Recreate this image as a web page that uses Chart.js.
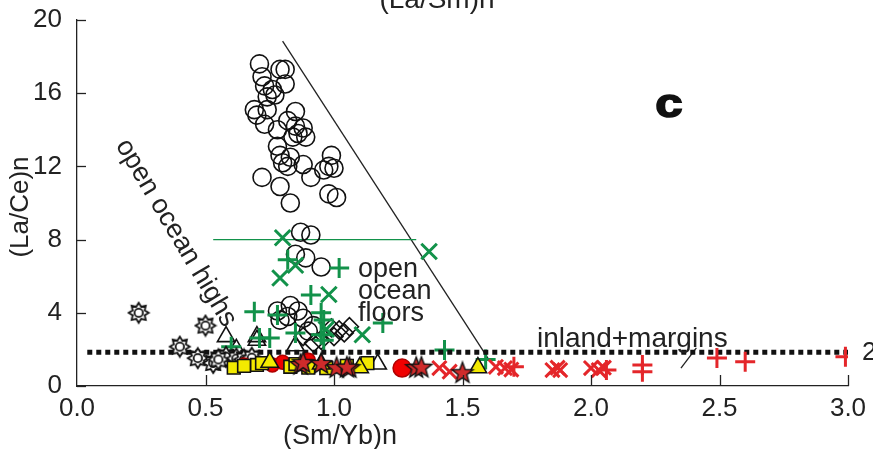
<!DOCTYPE html>
<html>
<head>
<meta charset="utf-8">
<script src="https://cdn.jsdelivr.net/npm/chart.js@4.4.1/dist/chart.umd.min.js"></script>
<style>
  html, body { margin: 0; padding: 0; background: #fff; }
  #wrap { width: 873px; height: 449px; }
</style>
</head>
<body>
<div id="wrap"><canvas id="chart"></canvas></div>
<script>
// axis ticks
const xTicks = [0.0, 0.5, 1.0, 1.5, 2.0, 2.5, 3.0];
const yTicks = [0, 4, 8, 12, 16, 20];

// series, [ (Sm/Yb)n , (La/Ce)n ]
const openCircles = [
  [0.71,17.6],[0.72,16.9],[0.79,17.3],[0.81,17.3],[0.73,16.4],[0.76,16.2],[0.81,16.5],
  [0.74,15.8],[0.77,15.9],[0.69,15.1],[0.70,14.8],[0.74,15.1],[0.73,14.3],[0.78,14.0],
  [0.85,15.0],[0.82,14.5],[0.85,14.2],[0.88,14.1],[0.89,13.6],[0.84,13.6],[0.86,13.8],
  [0.78,13.1],[0.79,12.6],[0.80,12.2],[0.82,12.0],[0.83,12.5],[0.88,12.1],[0.99,12.6],
  [0.98,12.0],[1.00,11.9],[0.96,11.8],[0.72,11.4],[0.91,11.4],[0.79,10.9],[0.98,10.5],
  [1.01,10.3],[0.83,10.0],[0.87,8.4],[0.91,8.25],[0.85,7.2],[0.89,7.0],[0.95,6.5],
  [0.78,4.1],[0.83,4.4],[0.86,4.1],[0.82,3.8],[0.88,3.7],[0.79,3.6],[0.92,3.3],[0.90,3.0]
];
const greenCrosses = [[0.80,8.1],[0.85,6.6],[0.79,5.9],[0.98,5.0],[1.11,2.8],[1.37,7.35],[0.97,3.1]];
const greenPluses = [
  [1.02,6.45],[0.82,6.9],[0.91,4.97],[0.69,4.06],[0.78,3.88],[0.95,4.0],[0.96,3.6],
  [1.19,3.44],[0.71,2.62],[0.75,2.62],[0.85,2.9],[0.95,2.8],[0.60,2.15],[1.43,1.97],
  [1.59,1.45],[0.96,2.5]
];
const openDiamonds = [[1.06,3.24],[1.04,2.9],[0.99,3.17],[0.95,2.5],[0.92,2.34],[1.02,3.06],[0.88,2.7],[1.00,2.7]];
const openTriangles = [[0.58,2.7],[0.70,2.7],[0.70,2.5],[1.17,1.2],[0.62,2.0],[0.85,2.2]];
const sunStars = [[0.24,4.0],[0.50,3.3],[0.40,2.15],[0.47,1.52],[0.53,1.26],[0.58,1.6],[0.62,1.5],[0.65,1.45],[0.68,1.55],[0.55,1.45]];
const yellowSquares = [[0.61,1.0],[0.70,1.15],[0.83,1.05],[0.97,0.98],[1.13,1.25],[0.72,1.25],[0.85,1.2],[0.90,1.0],[1.05,1.1],[0.65,1.1]];
const yellowTriangles = [[1.56,1.0],[0.75,1.3],[0.95,1.2],[1.10,1.0]];
const redCircles = [[1.265,0.98],[0.65,1.15],[0.76,1.15],[0.80,1.3],[0.90,1.4]];
const redStars = [[0.87,1.15],[1.01,0.98],[1.06,0.98],[1.32,0.98],[1.50,0.7],[0.88,1.25],[1.05,1.0],[1.34,1.0],[0.95,1.2]];
const redCrosses = [[1.41,0.98],[1.45,0.78],[1.63,1.05],[1.665,0.98],[1.85,0.87],[1.88,0.87],[2.00,0.98],[2.03,0.87],[1.69,0.9],[1.87,1.0],[2.05,1.0]];
const redPluses = [[1.70,1.05],[2.20,1.15],[2.20,0.78],[2.49,1.53],[2.60,1.33],[2.99,1.6],[2.06,0.87]];

// reference lines
const dottedLine = [[0.04,1.85],[3.0,1.85]];
const diagonalLine = [[0.80,18.85],[1.60,1.5]];
const greenLine = [[0.53,8.0],[1.32,8.0]];
const slashLine = [[2.35,0.98],[2.41,2.08]];

const GREEN = "#12924a";
const RED = "#e4262a";
const FONT = "'Liberation Sans', Arial, sans-serif";

function pts(arr) { return arr.map(function (p) { return {x: p[0], y: p[1]}; }); }

function makeStar(n, outer, inner, fill, stroke, ring, lw) {
  var c = document.createElement("canvas");
  var s = Math.ceil(outer * 2 + 4);
  c.width = s; c.height = s;
  var g = c.getContext("2d");
  g.translate(s / 2, s / 2);
  g.beginPath();
  for (var i = 0; i < n * 2; i++) {
    var r = i % 2 ? inner : outer;
    var a = -Math.PI / 2 + i * Math.PI / n;
    g.lineTo(Math.cos(a) * r, Math.sin(a) * r);
  }
  g.closePath();
  g.fillStyle = fill; g.fill();
  g.lineWidth = lw; g.strokeStyle = stroke; g.stroke();
  if (ring) {
    g.beginPath(); g.arc(0, 0, ring, 0, Math.PI * 2); g.stroke();
  }
  return c;
}

const redStarImg = makeStar(5, 11, 4.6, "#cf2b2b", "#111", 0, 1.4);
const sunImg = makeStar(8, 10, 6.5, "#fff", "#111", 4.2, 1.8);

function scatter(label, data, style, extra) {
  return Object.assign({
    type: "scatter", label: label, data: pts(data), pointStyle: style,
    pointRadius: 8, pointHoverRadius: 8, borderColor: "#111",
    backgroundColor: "rgba(0,0,0,0)", borderWidth: 1.6
  }, extra || {});
}

function line(label, data, extra) {
  return Object.assign({
    type: "line", label: label, data: pts(data), pointRadius: 0,
    borderColor: "#222", borderWidth: 1.3, fill: false
  }, extra || {});
}

const datasets = [
  line("diagonal", diagonalLine, {order: 20}),
  line("green line", greenLine, {borderColor: GREEN, borderWidth: 1.3, order: 19}),
  line("slash", slashLine, {order: 19}),
  scatter("open circles", openCircles, "circle", {pointRadius: 9, order: 15}),
  scatter("green x", greenCrosses, "crossRot", {borderColor: GREEN, borderWidth: 3, pointRadius: 11, order: 12}),
  scatter("green +", greenPluses, "cross", {borderColor: GREEN, borderWidth: 3, pointRadius: 10, order: 11}),
  scatter("diamonds", openDiamonds, "rectRot", {pointRadius: 9, order: 13}),
  scatter("triangles", openTriangles, "triangle", {pointRadius: 10, order: 14}),
  scatter("sun", sunStars, sunImg, {order: 9}),
  line("dotted", dottedLine, {borderColor: "#111", borderWidth: 5, borderDash: [5, 4], order: 10}),
  scatter("red circles", redCircles, "circle", {backgroundColor: "#f00000", borderColor: "#b00000",
    pointRadius: function (c) { return c.raw && c.raw.x > 1.2 ? 9 : 7; }, order: 8.5}),
  scatter("yellow squares", yellowSquares, "rect", {backgroundColor: "#f3ea00", pointRadius: 9, order: 8}),
  scatter("yellow triangles", yellowTriangles, "triangle", {backgroundColor: "#f3ea00", pointRadius: 10, order: 7}),
  scatter("red x", redCrosses, "crossRot", {borderColor: RED, borderWidth: 3, pointRadius: 10, order: 5}),
  scatter("red +", redPluses, "cross", {borderColor: RED, borderWidth: 3, pointRadius: 10, order: 4}),
  scatter("red stars", redStars, redStarImg, {order: 3})
];

const decor = {
  id: "decor",
  afterDraw: function (chart) {
    var ctx = chart.ctx, xs = chart.scales.x, ys = chart.scales.y;
    var a = chart.chartArea;
    ctx.save();
    ctx.strokeStyle = "#222"; ctx.lineWidth = 1.3;
    // inward ticks
    xTicks.forEach(function (v) {
      if (v === 0) return;
      var px = Math.round(xs.getPixelForValue(v)) + 0.5;
      ctx.beginPath(); ctx.moveTo(px, a.bottom); ctx.lineTo(px, a.bottom - 11); ctx.stroke();
    });
    yTicks.forEach(function (v) {
      var py = Math.round(ys.getPixelForValue(v)) + 0.5;
      ctx.beginPath(); ctx.moveTo(a.left, py); ctx.lineTo(a.left + 9, py); ctx.stroke();
    });
    ctx.fillStyle = "#222";
    ctx.textBaseline = "alphabetic";
    ctx.textAlign = "center";
    ctx.font = "28px " + FONT;
    ctx.fillText("(La/Sm)n", 437, 8);
    ctx.font = "27px " + FONT;
    ctx.fillText("(Sm/Yb)n", 340, 444);
    ctx.save();
    ctx.translate(28, 207);
    ctx.rotate(-Math.PI / 2);
    ctx.font = "26px " + FONT;
    ctx.fillText("(La/Ce)n", 0, 0);
    ctx.restore();
    ctx.textAlign = "left";
    ctx.font = "27px " + FONT;
    ctx.fillText("open", 358, 277);
    ctx.fillText("ocean", 358, 299);
    ctx.fillText("floors", 358, 321);
    ctx.font = "28px " + FONT;
    ctx.fillText("inland+margins", 537, 347);
    ctx.textBaseline = "middle";
    ctx.font = "26px " + FONT;
    ctx.fillText("2", 862, 353);
    // rotated label
    ctx.save();
    ctx.translate(176, 233);
    ctx.rotate(59.3 * Math.PI / 180);
    ctx.textAlign = "center";
    ctx.font = "27px " + FONT;
    ctx.fillText("open ocean highs", 0, 0);
    ctx.restore();
    // panel letter
    ctx.save();
    ctx.translate(669, 117);
    ctx.scale(1.2, 1);
    ctx.font = "bold 41px " + FONT;
    ctx.textAlign = "center";
    ctx.textBaseline = "alphabetic";
    ctx.fillStyle = "#111";
    ctx.strokeStyle = "#111";
    ctx.lineWidth = 1.6;
    ctx.fillText("c", 0, 0);
    ctx.strokeText("c", 0, 0);
    ctx.restore();
    ctx.restore();
  }
};

new Chart(document.getElementById("chart"), {
  type: "scatter",
  data: {datasets: datasets},
  options: {
    responsive: true,
    maintainAspectRatio: false,
    animation: false,
    layout: {padding: {top: 20, right: 25, left: 0, bottom: 0}},
    plugins: {legend: {display: false}, tooltip: {enabled: false}},
    scales: {
      x: {
        type: "linear", min: 0, max: 3,
        afterBuildTicks: function (s) { s.ticks = xTicks.map(function (v) { return {value: v}; }); },
        afterFit: function (s) { s.height = 63; },
        grid: {display: false, tickLength: 4},
        border: {display: true, color: "#222", width: 1.3},
        ticks: {color: "#222", font: {size: 26, family: FONT}, padding: 3, maxRotation: 0,
          callback: function (v) { return v.toFixed(1); }}
      },
      y: {
        type: "linear", min: 0, max: 20,
        afterBuildTicks: function (s) { s.ticks = yTicks.map(function (v) { return {value: v}; }); },
        afterFit: function (s) { s.width = 77; },
        grid: {display: false, tickLength: 11},
        border: {display: true, color: "#222", width: 1.3},
        ticks: {color: "#222", font: {size: 26, family: FONT}, padding: 4}
      }
    }
  },
  plugins: [decor]
});
</script>
</body>
</html>
